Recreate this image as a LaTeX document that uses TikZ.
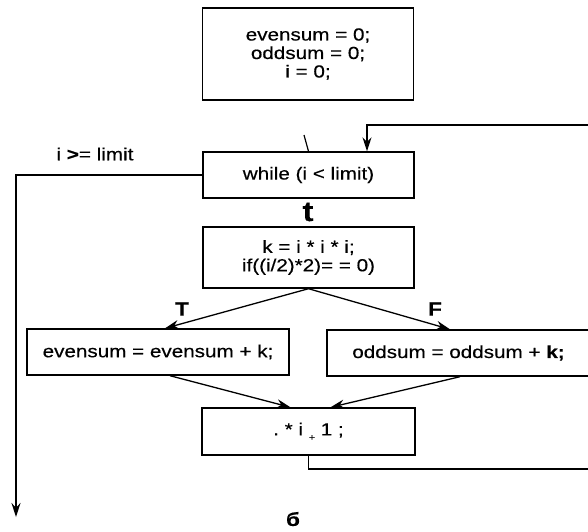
\documentclass[tikz,border=0pt]{standalone}
\usepackage{fontspec}
\setmainfont{Liberation Sans}[FakeStretch=1.18,FakeBold=0.4]
\usetikzlibrary{arrows.meta}

\begin{document}
\begin{tikzpicture}[x=1pt,y=-1pt,
  stmt/.style={draw,line width=1.4pt,minimum width=211pt,minimum height=46pt,
               inner sep=2pt,align=center,font=\fontsize{17.5}{18.5}\selectfont},
  arr/.style={-{Stealth[length=14pt,width=9pt]},line width=1.3pt},
  lbl/.style={font=\fontsize{19}{19}\selectfont\bfseries}]

  \useasboundingbox (0,0) rectangle (588,531);
  \clip (0,0) rectangle (588,531);

  \node[stmt,minimum height=92pt] (init) at (308,54)
       {evensum = 0;\\oddsum = 0;\\i = 0;};
  \node[stmt] (while) at (308.5,175) {while (i < limit)};
  \node[lbl,font=\fontsize{28}{28}\selectfont\bfseries] (tmark) at (308,212) {t};
  \node[stmt,minimum height=61pt] (kbox) at (308.5,257.5)
       {k = i * i * i;\\if((i/2)*2)= = 0)};
  \node[stmt,minimum width=262pt] (even) at (158,352) {evensum = evensum + k;};
  \node[stmt,minimum width=263pt] (odd)  at (458.5,353) {oddsum = oddsum + \textbf{k;}};
  \node[stmt,minimum width=213pt,minimum height=47pt] (inc) at (308.5,431.5)
       {.\ *\ i\ \raisebox{-5pt}{\fontsize{9}{9}\selectfont +}\ 1\ ;};

  \node[font=\fontsize{17.5}{17.5}\selectfont] (cond) at (95,154) {i \textbf{>}= limit};
  \node[lbl] (T) at (182,309) {T};
  \node[lbl] (F) at (435,309) {F};
  \node[lbl] (caption) at (293,519) {б};

  \coordinate (cut)   at (304,135);
  \coordinate (exit)  at (16,517);
  \coordinate (loopB) at (600,469);
  \coordinate (loopT) at (600,125);

  \draw[line width=1.2pt] (cut) -- (while.north);
  \draw[arr] (while.west) -| (exit);
  \draw[arr] (kbox.south) -- ([xshift=7pt]even.north);
  \draw[arr] (kbox.south) -- ([xshift=-8.5pt]odd.north);
  \draw[arr] ([xshift=12pt]even.south) -- ([xshift=-18pt]inc.north);
  \draw[arr] ([xshift=1.5pt]odd.south) -- ([xshift=22pt]inc.north);
  \draw[arr] (inc.south) |- (loopB) -- (loopT) -| ([xshift=58.5pt]while.north);
\end{tikzpicture}
\end{document}
